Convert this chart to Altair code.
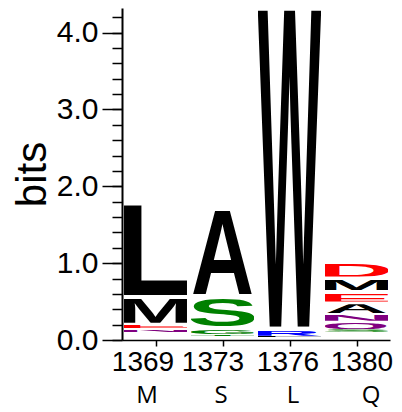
import altair as alt
import pandas as pd
import base64
import json

# ---- data -------------------------------------------------------------
positions = ["1369", "1373", "1376", "1380"]
residues = ["M", "S", "L", "Q"]

letter_col = [0, 0, 0, 0, 1, 1, 1, 1, 2, 2, 2, 3, 3, 3, 3, 3, 3, 3]
letters = ["L", "M", "E", "N", "A", "S", "G", "T", "W", "R", "L",
           "D", "M", "E", "A", "N", "Q", "S"]
bottoms = [0.582, 0.225, 0.152, 0.100, 0.599, 0.180, 0.078, 0.052,
           0.173, 0.056, 0.035, 0.825, 0.650, 0.500, 0.348, 0.252, 0.143, 0.108]
tops = [1.790, 0.556, 0.195, 0.130, 1.716, 0.556, 0.130, 0.074,
        4.450, 0.130, 0.052, 1.000, 0.790, 0.608, 0.465, 0.335, 0.238, 0.140]

y_major = [0, 1, 2, 3, 4]
y_minor = [0.0, 0.2, 0.4, 0.6, 0.8, 1.0, 1.2, 1.4, 1.6, 1.8, 2.0, 2.2, 2.4,
           2.6, 2.8, 3.0, 3.2, 3.4, 3.6, 3.8, 4.0, 4.2]

# label nudges (pixels) as placed in the original figure
pos_nudge = [-13, -10, -2, 5]
res_nudge = [-9, -2, 3, 14]

# ---- styling ----------------------------------------------------------
chem = {}
for c in "GSTYC":
    chem[c] = "#008000"
for c in "NQ":
    chem[c] = "#800080"
for c in "KRH":
    chem[c] = "#0000FF"
for c in "DE":
    chem[c] = "#FF0000"
for c in "PAWFLIMV":
    chem[c] = "#000000"

# approximate ink boxes of bold sans glyphs (font units, 2048 em)
glyph_box = {
    "A": (0, 0, 1479, 1466), "L": (150, 0, 1170, 1466),
    "M": (145, 0, 1561, 1466), "W": (8, 0, 1926, 1466),
    "S": (70, -25, 1275, 1491), "E": (150, 0, 1250, 1466),
    "N": (148, 0, 1330, 1466), "R": (150, 0, 1470, 1466),
    "D": (150, 0, 1375, 1466), "G": (90, -25, 1480, 1491),
    "Q": (86, -110, 1545, 1491), "T": (40, 0, 1210, 1466),
    "K": (150, 0, 1479, 1466),
}


def glyph_url(ch):
    x0, y0, x1, y1 = glyph_box[ch]
    svg = (
        '<svg xmlns="http://www.w3.org/2000/svg" width="100" height="100" '
        f'viewBox="{x0} {-y1} {x1 - x0} {y1 - y0}" preserveAspectRatio="none">'
        f'<text x="0" y="0" font-family="Liberation Sans, Arial, Helvetica, sans-serif" '
        f'font-weight="700" font-size="2048" fill="{chem[ch]}">{ch}</text></svg>'
    )
    return "data:image/svg+xml;base64," + base64.b64encode(svg.encode()).decode()


def nudge(offsets):
    return {
        "condition": [{"test": f"datum.value == {i}", "value": v}
                      for i, v in enumerate(offsets)],
        "value": 0,
    }


half = 0.47
df = pd.DataFrame({
    "col": letter_col,
    "letter": letters,
    "x0": [c - half for c in letter_col],
    "x1": [c + half for c in letter_col],
    "bottom": bottoms,
    "top": tops,
    "url": [glyph_url(ch) for ch in letters],
})

res_df = pd.DataFrame({"col": [0, 1, 2, 3], "res": residues, "zero": [0, 0, 0, 0]})

xscale = alt.Scale(domain=[-0.5, 3.5], nice=False, zero=False)
yscale = alt.Scale(domain=[0, 4.32], nice=False, zero=False)

pos_expr = json.dumps(positions) + "[datum.value]"
res_expr = json.dumps(residues) + "[datum.value]"

logo = alt.Chart(df).mark_image(aspect=False, clip=True).encode(
    x=alt.X("x0:Q", scale=xscale, axis=alt.Axis(
        orient="bottom", values=[0, 1, 2, 3], labelExpr=pos_expr, title=None,
        grid=False, tickSize=6, tickWidth=1.5, tickColor="black",
        domainColor="black", domainWidth=1.5, labelFont="Liberation Sans",
        labelFontSize=28, labelColor="black", labelPadding=2,
        labelOverlap=False, labelOffset=nudge(pos_nudge))),
    x2="x1:Q",
    y=alt.Y("bottom:Q", scale=yscale, axis=alt.Axis(
        orient="left", values=y_minor, labels=False, title=None, grid=False,
        tickSize=10, tickWidth=1.5, tickColor="black", domainColor="black",
        domainWidth=2)),
    y2="top:Q",
    url="url:N",
)

guide = alt.Chart(res_df).mark_point(opacity=0).encode(
    x=alt.X("col:Q", scale=xscale, axis=alt.Axis(
        orient="bottom", values=[0, 1, 2, 3], labelExpr=res_expr, title=None,
        grid=False, ticks=False, domain=False, labelFont="Open Sans",
        labelFontSize=24, labelColor="black", labelPadding=43,
        labelOverlap=False, labelOffset=nudge(res_nudge))),
    y=alt.Y("zero:Q", scale=yscale, axis=alt.Axis(
        orient="left", values=y_major, format=".1f", title="bits", grid=False,
        domain=False, tickSize=20, tickWidth=1.5, tickColor="black",
        labelFont="Liberation Sans", labelFontSize=30, labelColor="black",
        labelPadding=4, titleFont="Liberation Sans", titleFontSize=42,
        titleFontWeight="normal", titleColor="black", titlePadding=2)),
)

chart = alt.layer(logo, guide).resolve_axis(
    x="independent", y="independent"
).properties(
    width=268, height=332,
    padding={"left": 3, "top": 0, "right": 0, "bottom": 5},
).configure_view(stroke=None)

chart.save("out.html", embed_options={"renderer": "svg", "actions": False})
